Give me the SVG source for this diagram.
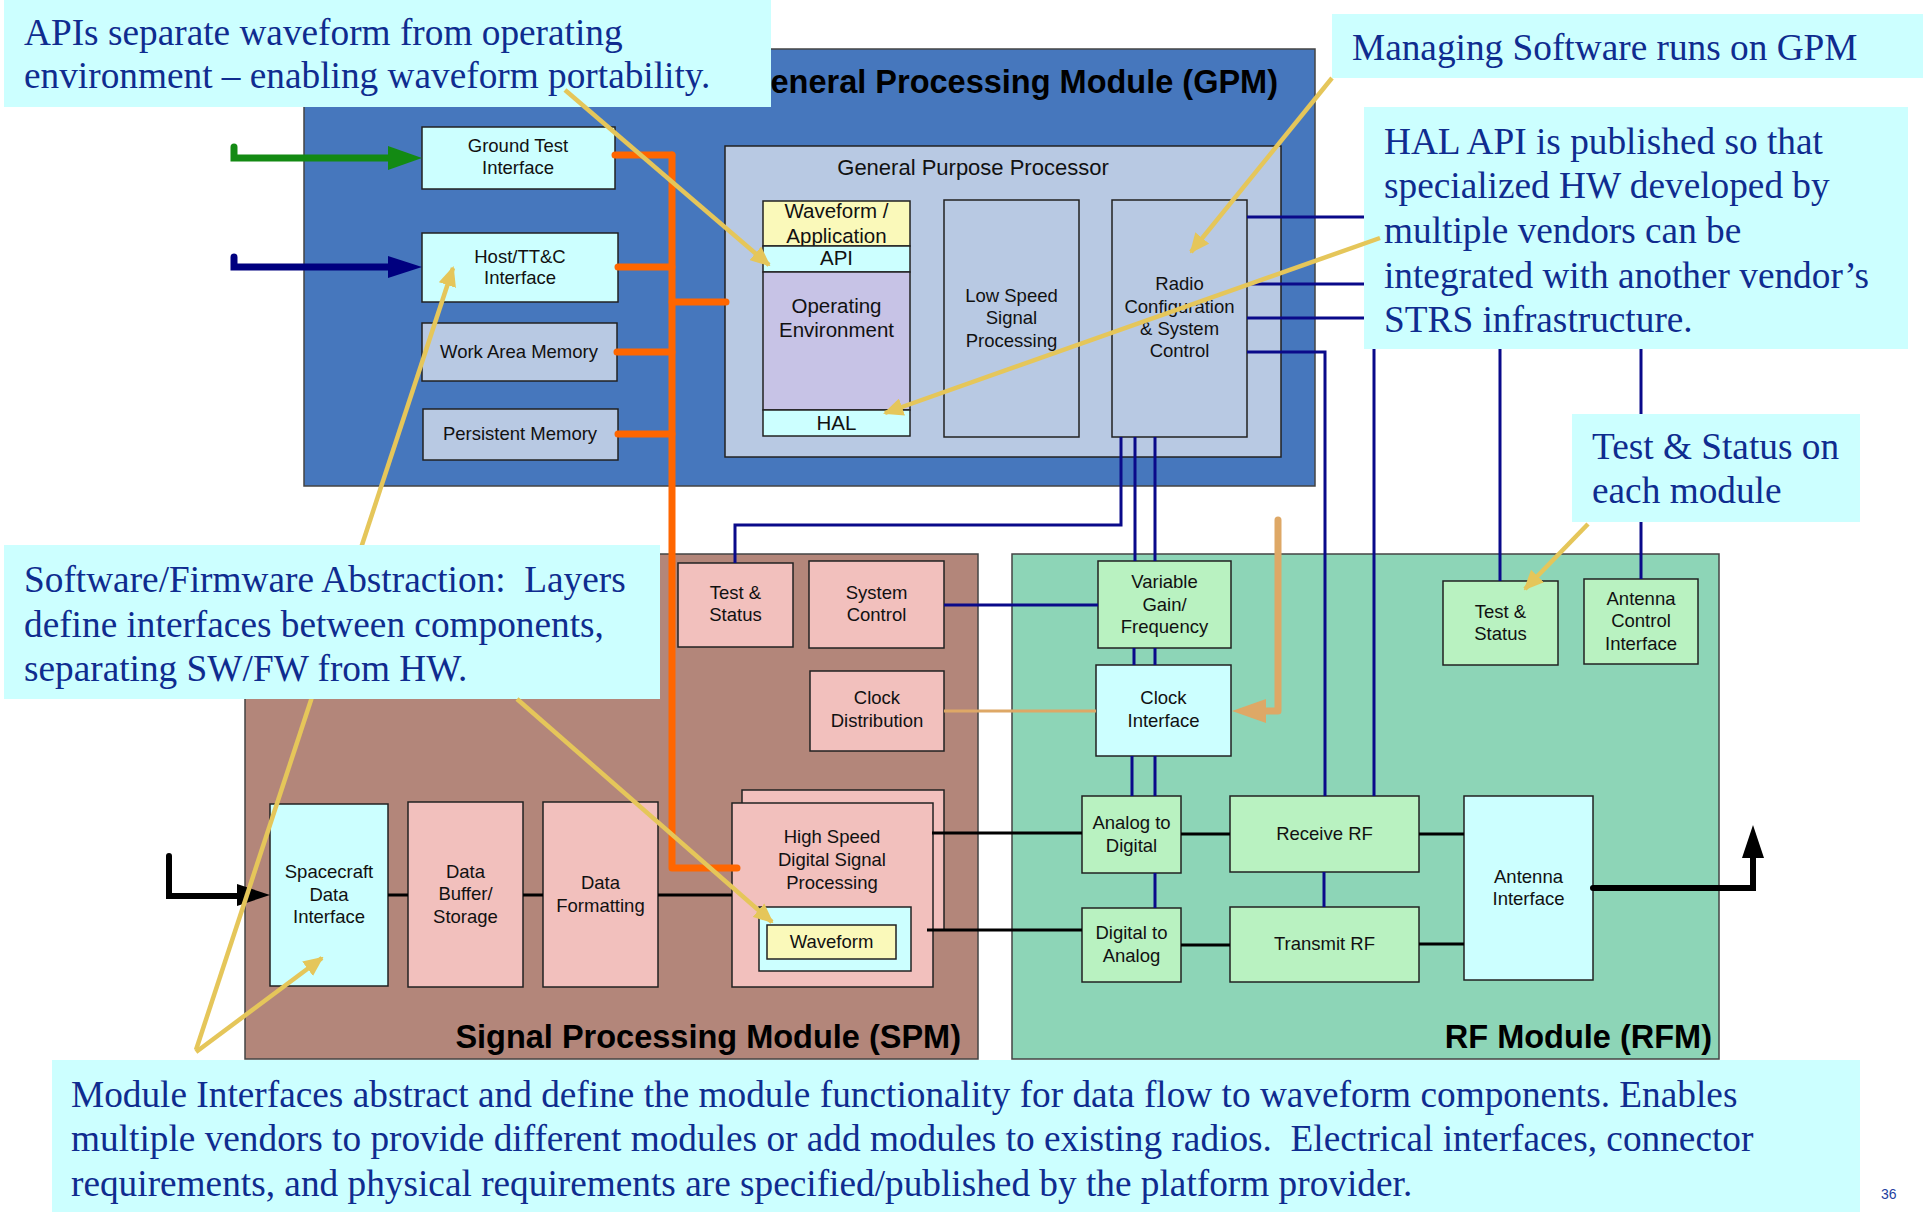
<svg xmlns="http://www.w3.org/2000/svg" width="1925" height="1212" viewBox="0 0 1925 1212">
<defs>
<style>
.lbl{font-family:"Liberation Sans",Arial,sans-serif;font-size:18.5px;fill:#111;text-anchor:middle}
.lbl2{font-family:"Liberation Sans",Arial,sans-serif;font-size:20.5px;fill:#111;text-anchor:middle}
.ttl{font-family:"Liberation Sans",Arial,sans-serif;font-size:32.5px;font-weight:bold;fill:#000;text-anchor:end}
.co{font-family:"Liberation Serif","Times New Roman",serif;font-size:37.3px;fill:#0F2C8F}
.cobox{fill:#CCFFFF}
.bx{stroke:#222;stroke-width:1.5}
.mod{stroke:#444;stroke-width:1.5}
.cyan{fill:#CCFFFF}
.steel{fill:#B8C9E3}
.pink{fill:#F2C0BD}
.grn{fill:#B9F2C1}
.yel{fill:#FAF9BA}
.nv{stroke:#0A0A8A;stroke-width:3;fill:none}
.blk{stroke:#000;stroke-width:3;fill:none}
.org{stroke:#FF6600;stroke-width:7;fill:none;stroke-linecap:round;stroke-linejoin:round}
.yl{stroke:#E5C65A;stroke-width:4.5;fill:none;marker-end:url(#ya)}
</style>
<marker id="ya" markerUnits="userSpaceOnUse" markerWidth="20" markerHeight="18" refX="18" refY="9" orient="auto">
<path d="M0,0 L20,9 L0,18 Z" fill="#E5C65A"/>
</marker>
</defs>

<!-- General Processing Module -->
<g id="gpm">
<rect x="304" y="49" width="1011" height="437" fill="#4677BD" class="mod"/>
<text class="ttl" x="1278" y="93">General Processing Module (GPM)</text>
</g>
<g id="ground-test">
<rect x="422" y="127" width="193" height="62" class="bx cyan"/>
<text class="lbl" x="518" y="152">Ground Test</text>
<text class="lbl" x="518" y="174">Interface</text>
</g>
<g id="host-ttc">
<rect x="422" y="233" width="196" height="69" class="bx cyan"/>
<text class="lbl" x="520" y="263">Host/TT&amp;C</text>
<text class="lbl" x="520" y="284">Interface</text>
</g>
<g id="work-area-memory">
<rect x="422" y="323" width="195" height="58" class="bx steel"/>
<text class="lbl" x="519" y="358">Work Area Memory</text>
</g>
<g id="persistent-memory">
<rect x="423" y="409" width="195" height="51" class="bx steel"/>
<text class="lbl" x="520" y="440">Persistent Memory</text>
</g>
<g id="gpp">
<rect x="725" y="146" width="556" height="311" class="bx steel"/>
<text class="lbl" x="973" y="175" style="font-size:22px">General Purpose Processor</text>
</g>
<g id="waveform-application">
<rect x="763" y="201" width="147" height="45" class="bx yel"/>
<text class="lbl2" x="836.5" y="218">Waveform /</text>
<text class="lbl2" x="836.5" y="243">Application</text>
</g>
<g id="api">
<rect x="763" y="246" width="147" height="26" class="bx cyan"/>
<text class="lbl2" x="836.5" y="265">API</text>
</g>
<g id="operating-environment">
<rect x="763" y="272" width="147" height="138" class="bx" fill="#C7C3E6"/>
<text class="lbl2" x="836.5" y="313">Operating</text>
<text class="lbl2" x="836.5" y="337">Environment</text>
</g>
<g id="hal">
<rect x="763" y="410" width="147" height="26" class="bx cyan"/>
<text class="lbl2" x="836.5" y="430">HAL</text>
</g>
<g id="low-speed">
<rect x="944" y="200" width="135" height="237" class="bx steel"/>
<text class="lbl" x="1011.5" y="302">Low Speed</text>
<text class="lbl" x="1011.5" y="324">Signal</text>
<text class="lbl" x="1011.5" y="347">Processing</text>
</g>
<g id="radio-config">
<rect x="1112" y="200" width="135" height="237" class="bx steel"/>
<text class="lbl" x="1179.5" y="290">Radio</text>
<text class="lbl" x="1179.5" y="313">Configuration</text>
<text class="lbl" x="1179.5" y="335">&amp; System</text>
<text class="lbl" x="1179.5" y="357">Control</text>
</g>

<!-- Signal Processing Module -->
<g id="spm">
<rect x="245" y="554" width="733" height="505" fill="#B3867A" class="mod"/>
<text class="ttl" x="961" y="1048">Signal Processing Module (SPM)</text>
</g>
<g id="spm-test-status">
<rect x="678" y="563" width="115" height="84" class="bx pink"/>
<text class="lbl" x="735.5" y="599">Test &amp;</text>
<text class="lbl" x="735.5" y="621">Status</text>
</g>
<g id="system-control">
<rect x="809" y="561" width="135" height="87" class="bx pink"/>
<text class="lbl" x="876.5" y="599">System</text>
<text class="lbl" x="876.5" y="621">Control</text>
</g>
<g id="clock-distribution">
<rect x="810" y="671" width="134" height="80" class="bx pink"/>
<text class="lbl" x="877" y="704">Clock</text>
<text class="lbl" x="877" y="727">Distribution</text>
</g>
<g id="spacecraft-data-interface">
<rect x="270" y="804" width="118" height="182" class="bx cyan"/>
<text class="lbl" x="329" y="878">Spacecraft</text>
<text class="lbl" x="329" y="901">Data</text>
<text class="lbl" x="329" y="923">Interface</text>
</g>
<g id="data-buffer">
<rect x="408" y="802" width="115" height="185" class="bx pink"/>
<text class="lbl" x="465.5" y="878">Data</text>
<text class="lbl" x="465.5" y="900">Buffer/</text>
<text class="lbl" x="465.5" y="923">Storage</text>
</g>
<g id="data-formatting">
<rect x="543" y="802" width="115" height="185" class="bx pink"/>
<text class="lbl" x="600.5" y="889">Data</text>
<text class="lbl" x="600.5" y="912">Formatting</text>
</g>
<g id="hsdsp">
<rect x="742" y="790" width="202" height="140" class="bx pink"/>
<rect x="732" y="803" width="201" height="184" class="bx pink"/>
<text class="lbl" x="832" y="843">High Speed</text>
<text class="lbl" x="832" y="866">Digital Signal</text>
<text class="lbl" x="832" y="889">Processing</text>
<rect x="759" y="907" width="152" height="64" class="bx cyan"/>
</g>
<g id="waveform">
<rect x="767" y="925" width="129" height="34" class="bx yel"/>
<text class="lbl" x="831.5" y="948">Waveform</text>
</g>

<!-- RF Module -->
<g id="rfm">
<rect x="1012" y="554" width="707" height="505" fill="#8DD5B7" class="mod"/>
<text class="ttl" x="1712" y="1048">RF Module (RFM)</text>
</g>
<g id="variable-gain">
<rect x="1098" y="561" width="133" height="87" class="bx grn"/>
<text class="lbl" x="1164.5" y="588">Variable</text>
<text class="lbl" x="1164.5" y="611">Gain/</text>
<text class="lbl" x="1164.5" y="633">Frequency</text>
</g>
<g id="clock-interface">
<rect x="1096" y="665" width="135" height="91" class="bx cyan"/>
<text class="lbl" x="1163.5" y="704">Clock</text>
<text class="lbl" x="1163.5" y="727">Interface</text>
</g>
<g id="analog-to-digital">
<rect x="1082" y="796" width="99" height="77" class="bx grn"/>
<text class="lbl" x="1131.5" y="829">Analog to</text>
<text class="lbl" x="1131.5" y="852">Digital</text>
</g>
<g id="digital-to-analog">
<rect x="1082" y="908" width="99" height="74" class="bx grn"/>
<text class="lbl" x="1131.5" y="939">Digital to</text>
<text class="lbl" x="1131.5" y="962">Analog</text>
</g>
<g id="receive-rf">
<rect x="1230" y="796" width="189" height="76" class="bx grn"/>
<text class="lbl" x="1324.5" y="840">Receive RF</text>
</g>
<g id="transmit-rf">
<rect x="1230" y="907" width="189" height="75" class="bx grn"/>
<text class="lbl" x="1324.5" y="950">Transmit RF</text>
</g>
<g id="antenna-interface">
<rect x="1464" y="796" width="129" height="184" class="bx cyan"/>
<text class="lbl" x="1528.5" y="883">Antenna</text>
<text class="lbl" x="1528.5" y="905">Interface</text>
</g>
<g id="rfm-test-status">
<rect x="1443" y="581" width="115" height="84" class="bx grn"/>
<text class="lbl" x="1500.5" y="618">Test &amp;</text>
<text class="lbl" x="1500.5" y="640">Status</text>
</g>
<g id="antenna-control">
<rect x="1584" y="579" width="114" height="85" class="bx grn"/>
<text class="lbl" x="1641" y="605">Antenna</text>
<text class="lbl" x="1641" y="627">Control</text>
<text class="lbl" x="1641" y="650">Interface</text>
</g>

<!-- Connectors -->
<g id="connectors">
<path class="org" d="M672,155 V868 H737"/>
<path class="org" d="M615,155 H672 M618,267 H672 M617,352 H672 M618,434 H672 M672,302 H726"/>
<path class="nv" d="M1247,217 H1641 V579"/>
<path class="nv" d="M1247,284 H1500 V581"/>
<path class="nv" d="M1247,318 H1374 V796"/>
<path class="nv" d="M1247,352 H1325 V796"/>
<path class="nv" d="M1121,437 V525 H735 V563"/>
<path class="nv" d="M1135,437 V561 M1155,437 V561"/>
<path class="nv" d="M1134,648 V665 M1155,648 V665"/>
<path class="nv" d="M1132,756 V796 M1155,756 V796"/>
<path class="nv" d="M1155,873 V908"/>
<path class="nv" d="M1324,872 V907"/>
<path class="nv" d="M944,605 H1098"/>
<path d="M944,711 H1096" stroke="#DEA866" stroke-width="3" fill="none"/>
<path d="M1278,520 V711 H1262" stroke="#DEA866" stroke-width="7" fill="none" stroke-linecap="round" stroke-linejoin="round"/>
<polygon points="1232,711 1266,699 1266,723" fill="#DEA866"/>
<path class="blk" d="M388,895 H408 M523,895 H543 M658,895 H732"/>
<path class="blk" d="M932,833 H1082 M927,930 H1082"/>
<path class="blk" d="M1181,834 H1230 M1181,945 H1230"/>
<path class="blk" d="M1419,834 H1464 M1419,944 H1464"/>
<path d="M234,147 V158 H392" stroke="#138A13" stroke-width="7" fill="none" stroke-linecap="round"/>
<polygon points="388,146 422,158 388,170" fill="#138A13"/>
<path d="M234,257 V267 H392" stroke="#00007F" stroke-width="7" fill="none" stroke-linecap="round"/>
<polygon points="388,256 422,267 388,278" fill="#00007F"/>
<path d="M169,856 V896 H240" stroke="#000" stroke-width="6" fill="none" stroke-linecap="round"/>
<polygon points="237,884 270,895 237,906" fill="#000"/>
<path d="M1593,888 H1753 V856" stroke="#000" stroke-width="6" fill="none" stroke-linecap="round"/>
<polygon points="1742,858 1753,825 1764,858" fill="#000"/>
<path class="yl" d="M196,1050 L453,268"/>
<path class="yl" d="M196,1052 L322,958"/>
</g>

<!-- Callouts -->
<g id="callout-apis">
<rect x="4" y="0" width="767" height="107" class="cobox"/>
<text class="co" x="24" y="45">APIs separate waveform from operating</text>
<text class="co" x="24" y="88">environment – enabling waveform portability.</text>
<path class="yl" d="M565,90 L769,265"/>
</g>
<g id="callout-managing">
<rect x="1332" y="14" width="591" height="64" class="cobox"/>
<text class="co" x="1352" y="60">Managing Software runs on GPM</text>
<path class="yl" d="M1332,78 L1191,252"/>
</g>
<g id="callout-hal">
<rect x="1364" y="107" width="544" height="242" class="cobox"/>
<text class="co" x="1384" y="153.5">HAL API is published so that</text>
<text class="co" x="1384" y="198">specialized HW developed by</text>
<text class="co" x="1384" y="242.5">multiple vendors can be</text>
<text class="co" x="1384" y="287.5">integrated with another vendor’s</text>
<text class="co" x="1384" y="332">STRS infrastructure.</text>
<path class="yl" d="M1380,238 L885,413"/>
</g>
<g id="callout-test-status">
<rect x="1572" y="414" width="288" height="108" class="cobox"/>
<text class="co" x="1592" y="459">Test &amp; Status on</text>
<text class="co" x="1592" y="503">each module</text>
<path class="yl" d="M1588,524 L1525,589"/>
</g>
<g id="callout-swfw">
<rect x="4" y="545" width="656" height="154" class="cobox"/>
<text class="co" x="24" y="592" xml:space="preserve">Software/Firmware Abstraction:  Layers</text>
<text class="co" x="24" y="637">define interfaces between components,</text>
<text class="co" x="24" y="681">separating SW/FW from HW.</text>
<path class="yl" d="M517,699 L772,922"/>
</g>
<g id="callout-module-interfaces">
<rect x="52" y="1060" width="1808" height="152" class="cobox"/>
<text class="co" x="71" y="1107">Module Interfaces abstract and define the module functionality for data flow to waveform components. Enables</text>
<text class="co" x="71" y="1151" xml:space="preserve">multiple vendors to provide different modules or add modules to existing radios.  Electrical interfaces, connector</text>
<text class="co" x="71" y="1196">requirements, and physical requirements are specified/published by the platform provider.</text>
</g>
<text x="1881" y="1199" style="font-family:'Liberation Sans',Arial,sans-serif;font-size:14px;fill:#1F3FA0">36</text>
</svg>
